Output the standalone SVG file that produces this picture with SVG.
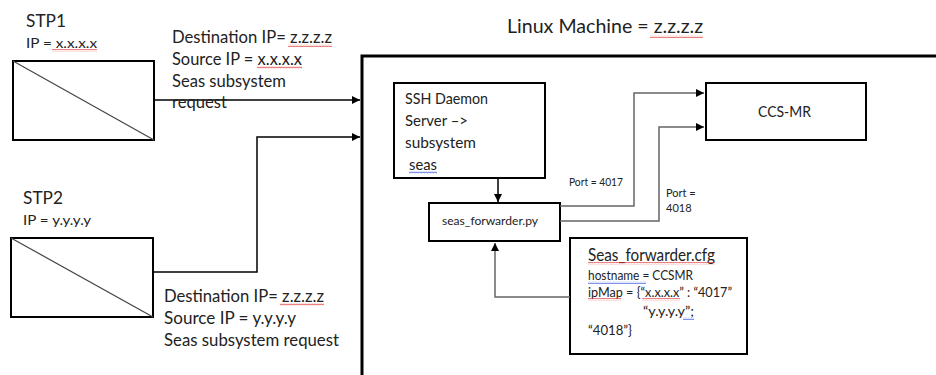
<svg xmlns="http://www.w3.org/2000/svg" width="936" height="375" viewBox="0 0 936 375">
<style>
text{font-family:Lato,"Open Sans","Liberation Sans",sans-serif;fill:#222}
.box{fill:#fff;stroke:#000;stroke-width:2}
.diag{stroke:#444;stroke-width:1.2}
.conn{fill:none;stroke:#000;stroke-width:1.5}
.conng{fill:none;stroke:#666;stroke-width:1.5}
.t16{font-size:16.5px}
.t15{font-size:15px}
.t14{font-size:14px}
.t12{font-size:12px}
.t11{font-size:11px}
.sq-r{fill:url(#wavr)}
.sq-b{fill:url(#wavb)}
</style>
<defs>
<marker id="ah" viewBox="0 0 10 10" refX="10" refY="5" markerWidth="8" markerHeight="8" markerUnits="userSpaceOnUse" orient="auto"><path d="M0,0L10,5L0,10Z" fill="#000"/></marker>
<pattern id="wavr" width="3" height="3" patternUnits="userSpaceOnUse"><path d="M0,2.2L0.75,0.8L1.5,2.2L2.25,0.8L3,2.2" fill="none" stroke="#e03030" stroke-width="0.6"/></pattern>
<pattern id="wavb" width="3" height="3" patternUnits="userSpaceOnUse"><path d="M0,2.2L0.75,0.8L1.5,2.2L2.25,0.8L3,2.2" fill="none" stroke="#3050e0" stroke-width="0.6"/></pattern>
</defs>
<rect width="936" height="375" fill="#fff"/>

<g id="linux-machine">
<text x="507" y="33" font-size="20" textLength="196" lengthAdjust="spacingAndGlyphs">Linux Machine = z.z.z.z</text>
<rect class="sq-r" x="650" y="35" width="53" height="3"/>
<path d="M362,375V56H940" fill="none" stroke="#000" stroke-width="3"/>
</g>

<g id="stp1">
<text x="26" y="27" font-size="17" textLength="40" lengthAdjust="spacingAndGlyphs">STP1</text>
<text x="26" y="48" font-size="13" textLength="71" lengthAdjust="spacingAndGlyphs">IP = x.x.x.x</text>
<rect class="sq-r" x="52" y="49" width="45" height="3"/>
<rect class="box" x="13" y="61" width="141" height="79"/>
<line class="diag" x1="13" y1="61" x2="154" y2="140"/>
</g>

<g id="stp2">
<text x="23" y="204" font-size="17" textLength="40" lengthAdjust="spacingAndGlyphs">STP2</text>
<text x="23" y="225" font-size="13" textLength="68" lengthAdjust="spacingAndGlyphs">IP = y.y.y.y</text>
<rect class="box" x="11" y="238" width="142" height="79"/>
<line class="diag" x1="11" y1="238" x2="153" y2="317"/>
</g>

<g id="ssh-daemon">
<rect class="box" x="394" y="83" width="151" height="95"/>
<text class="t15" x="405" y="104" textLength="83" lengthAdjust="spacingAndGlyphs">SSH Daemon</text>
<text class="t15" x="405" y="126" textLength="63" lengthAdjust="spacingAndGlyphs">Server –&gt;</text>
<text class="t15" x="405" y="148" textLength="71" lengthAdjust="spacingAndGlyphs">subsystem</text>
<text class="t15" x="409" y="170" textLength="28" lengthAdjust="spacingAndGlyphs">seas</text>
<rect class="sq-b" x="409" y="171" width="28" height="3"/>
</g>

<g id="seas-forwarder">
<rect class="box" x="429" y="203" width="131" height="38"/>
<text class="t12" x="442" y="225" textLength="96" lengthAdjust="spacingAndGlyphs">seas_forwarder.py</text>
</g>

<g id="ccs-mr">
<rect class="box" x="706" y="83" width="160" height="57"/>
<text class="t15" x="758" y="117" textLength="53" lengthAdjust="spacingAndGlyphs">CCS-MR</text>
</g>

<g id="seas-forwarder-cfg">
<rect class="box" x="570" y="238" width="177" height="116"/>
<text x="588" y="261" font-size="16.5" textLength="127" lengthAdjust="spacingAndGlyphs">Seas_forwarder.cfg</text>
<rect class="sq-r" x="588" y="262" width="127" height="3"/>
<text class="t14" x="588" y="280" textLength="105" lengthAdjust="spacingAndGlyphs">hostname = CCSMR</text>
<rect class="sq-b" x="588" y="281" width="58" height="3"/>
<text class="t14" x="588" y="297" textLength="144" lengthAdjust="spacingAndGlyphs">ipMap = {“x.x.x.x” : “4017”</text>
<rect class="sq-r" x="588" y="298" width="33" height="3"/>
<rect class="sq-r" x="642" y="298" width="38" height="3"/>
<text class="t14" x="643" y="316" textLength="51" lengthAdjust="spacingAndGlyphs">“y.y.y.y”;</text>
<rect class="sq-b" x="683" y="317" width="11" height="3"/>
<text class="t14" x="588" y="335" textLength="44" lengthAdjust="spacingAndGlyphs">“4018”}</text>
</g>

<g id="connectors">
<path class="conn" d="M154,100H360" marker-end="url(#ah)"/>
<path class="conn" d="M153,272H257V137H360" marker-end="url(#ah)"/>
<path class="conn" d="M498,178V202" marker-end="url(#ah)"/>
<path class="conng" d="M560,206H634V93H704" marker-end="url(#ah)"/>
<path class="conng" d="M560,221H659V127H704" marker-end="url(#ah)"/>
<path class="conng" d="M570,297H495V243" marker-end="url(#ah)"/>
</g>

<g id="labels">
<text class="t16" x="172" y="43" textLength="160" lengthAdjust="spacingAndGlyphs">Destination IP= z.z.z.z</text>
<rect class="sq-r" x="288" y="44" width="44" height="3"/>
<text class="t16" x="172" y="65" textLength="130" lengthAdjust="spacingAndGlyphs">Source IP = x.x.x.x</text>
<rect class="sq-r" x="257" y="66" width="45" height="3"/>
<text class="t16" x="172" y="87" textLength="114" lengthAdjust="spacingAndGlyphs">Seas subsystem</text>
<text class="t16" x="172" y="108" textLength="55" lengthAdjust="spacingAndGlyphs">request</text>
<text class="t16" x="164" y="302" textLength="160" lengthAdjust="spacingAndGlyphs">Destination IP= z.z.z.z</text>
<rect class="sq-r" x="280" y="303" width="44" height="3"/>
<text class="t16" x="164" y="324" textLength="132" lengthAdjust="spacingAndGlyphs">Source IP = y.y.y.y</text>
<text class="t16" x="164" y="346" textLength="175" lengthAdjust="spacingAndGlyphs">Seas subsystem request</text>
<text class="t11" x="569" y="186" textLength="54" lengthAdjust="spacingAndGlyphs">Port = 4017</text>
<text class="t11" x="666" y="197">Port =</text>
<text class="t11" x="666" y="212">4018</text>
</g>
</svg>
